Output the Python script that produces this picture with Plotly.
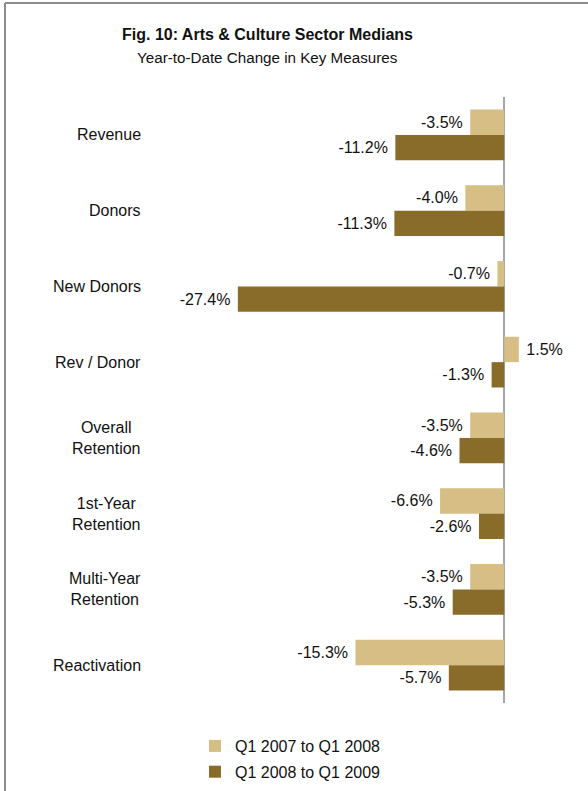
import plotly.graph_objects as go

categories = ["Revenue", "Donors", "New Donors", "Rev / Donor", "Overall<br>Retention",
              "1st-Year<br>Retention", "Multi-Year<br>Retention", "Reactivation"]
series_names = ["Q1 2007 to Q1 2008", "Q1 2008 to Q1 2009"]
values_2008 = [-3.5, -4.0, -0.7, 1.5, -3.5, -6.6, -3.5, -15.3]
values_2009 = [-11.2, -11.3, -27.4, -1.3, -4.6, -2.6, -5.3, -5.7]
colors = ["#D6BE84", "#8A6C2A"]

W, H = 588, 791
ML, MR, MT, MB = 232, 40, 97, 88
PW, PH = W - ML - MR, H - MT - MB

def px_x(px):
    return (px - ML) / PW

def px_y(py):
    return (H - MB - py) / PH

FONT = "Liberation Sans, Arial, sans-serif"
NB = "\u00a0"

def label(v):
    s = f"{v:.1f}%"
    return s + NB if v < 0 else NB + s

fig = go.Figure()
for name, vals, col in zip(series_names, [values_2008, values_2009], colors):
    fig.add_trace(go.Bar(
        y=list(range(len(categories))), x=vals, name=name, orientation="h",
        marker=dict(color=col, line=dict(width=0)),
        text=[label(v) for v in vals], textposition="outside", constraintext="none",
        cliponaxis=False, textfont=dict(size=16, color="#111111", family=FONT),
        legendgroup=name, hoverinfo="x+name",
    ))

for i, c in enumerate(categories):
    fig.add_annotation(x=px_x(143), xref="paper", y=i, yref="y", text=c,
                       xanchor="right", yanchor="middle", align="center",
                       showarrow=False, font=dict(size=16, color="#111111", family=FONT))

fig.add_annotation(x=px_x(267), y=px_y(35), xref="paper", yref="paper",
                   text="<b>Fig. 10: Arts & Culture Sector Medians</b>", showarrow=False,
                   xanchor="center", yanchor="middle",
                   font=dict(size=16, color="#111111", family=FONT))
fig.add_annotation(x=px_x(267), y=px_y(58), xref="paper", yref="paper",
                   text="Year-to-Date Change in Key Measures", showarrow=False,
                   xanchor="center", yanchor="middle",
                   font=dict(size=15.2, color="#111111", family=FONT))

# outer chart frame: only left and top edges fall inside the picture
x0, y0, y1 = px_x(5), px_y(3), px_y(800)
fig.add_shape(type="line", xref="paper", yref="paper", x0=x0, x1=x0, y0=y1, y1=y0,
              line=dict(color="#8C8C8C", width=2), layer="below")
fig.add_shape(type="line", xref="paper", yref="paper", x0=x0, x1=px_x(600), y0=y0, y1=y0,
              line=dict(color="#8C8C8C", width=2), layer="below")

fig.update_layout(
    width=W, height=H,
    margin=dict(l=ML, r=MR, t=MT, b=MB, autoexpand=False),
    paper_bgcolor="white", plot_bgcolor="white",
    barmode="group", bargap=0.33, bargroupgap=0,
    font=dict(family=FONT, size=16, color="#111111"),
    xaxis=dict(range=[-28, 4.5], showgrid=False, showticklabels=False, ticks="",
               zeroline=True, zerolinecolor="#A6A6A6", zerolinewidth=1.5, showline=False),
    yaxis=dict(range=[7.5, -0.5], showgrid=False, showticklabels=False, ticks="",
               zeroline=False, showline=False),
    showlegend=True,
    legend=dict(x=px_x(195), y=px_y(729), xanchor="left", yanchor="top",
                orientation="v", traceorder="grouped", tracegroupgap=2,
                itemwidth=30, font=dict(size=16, color="#111111", family=FONT),
                bgcolor="rgba(0,0,0,0)"),
)

fig.write_html("out.html", config={"displayModeBar": False},
               post_script="document.body.style.margin='0';document.body.style.padding='0';document.body.style.overflow='hidden';")
